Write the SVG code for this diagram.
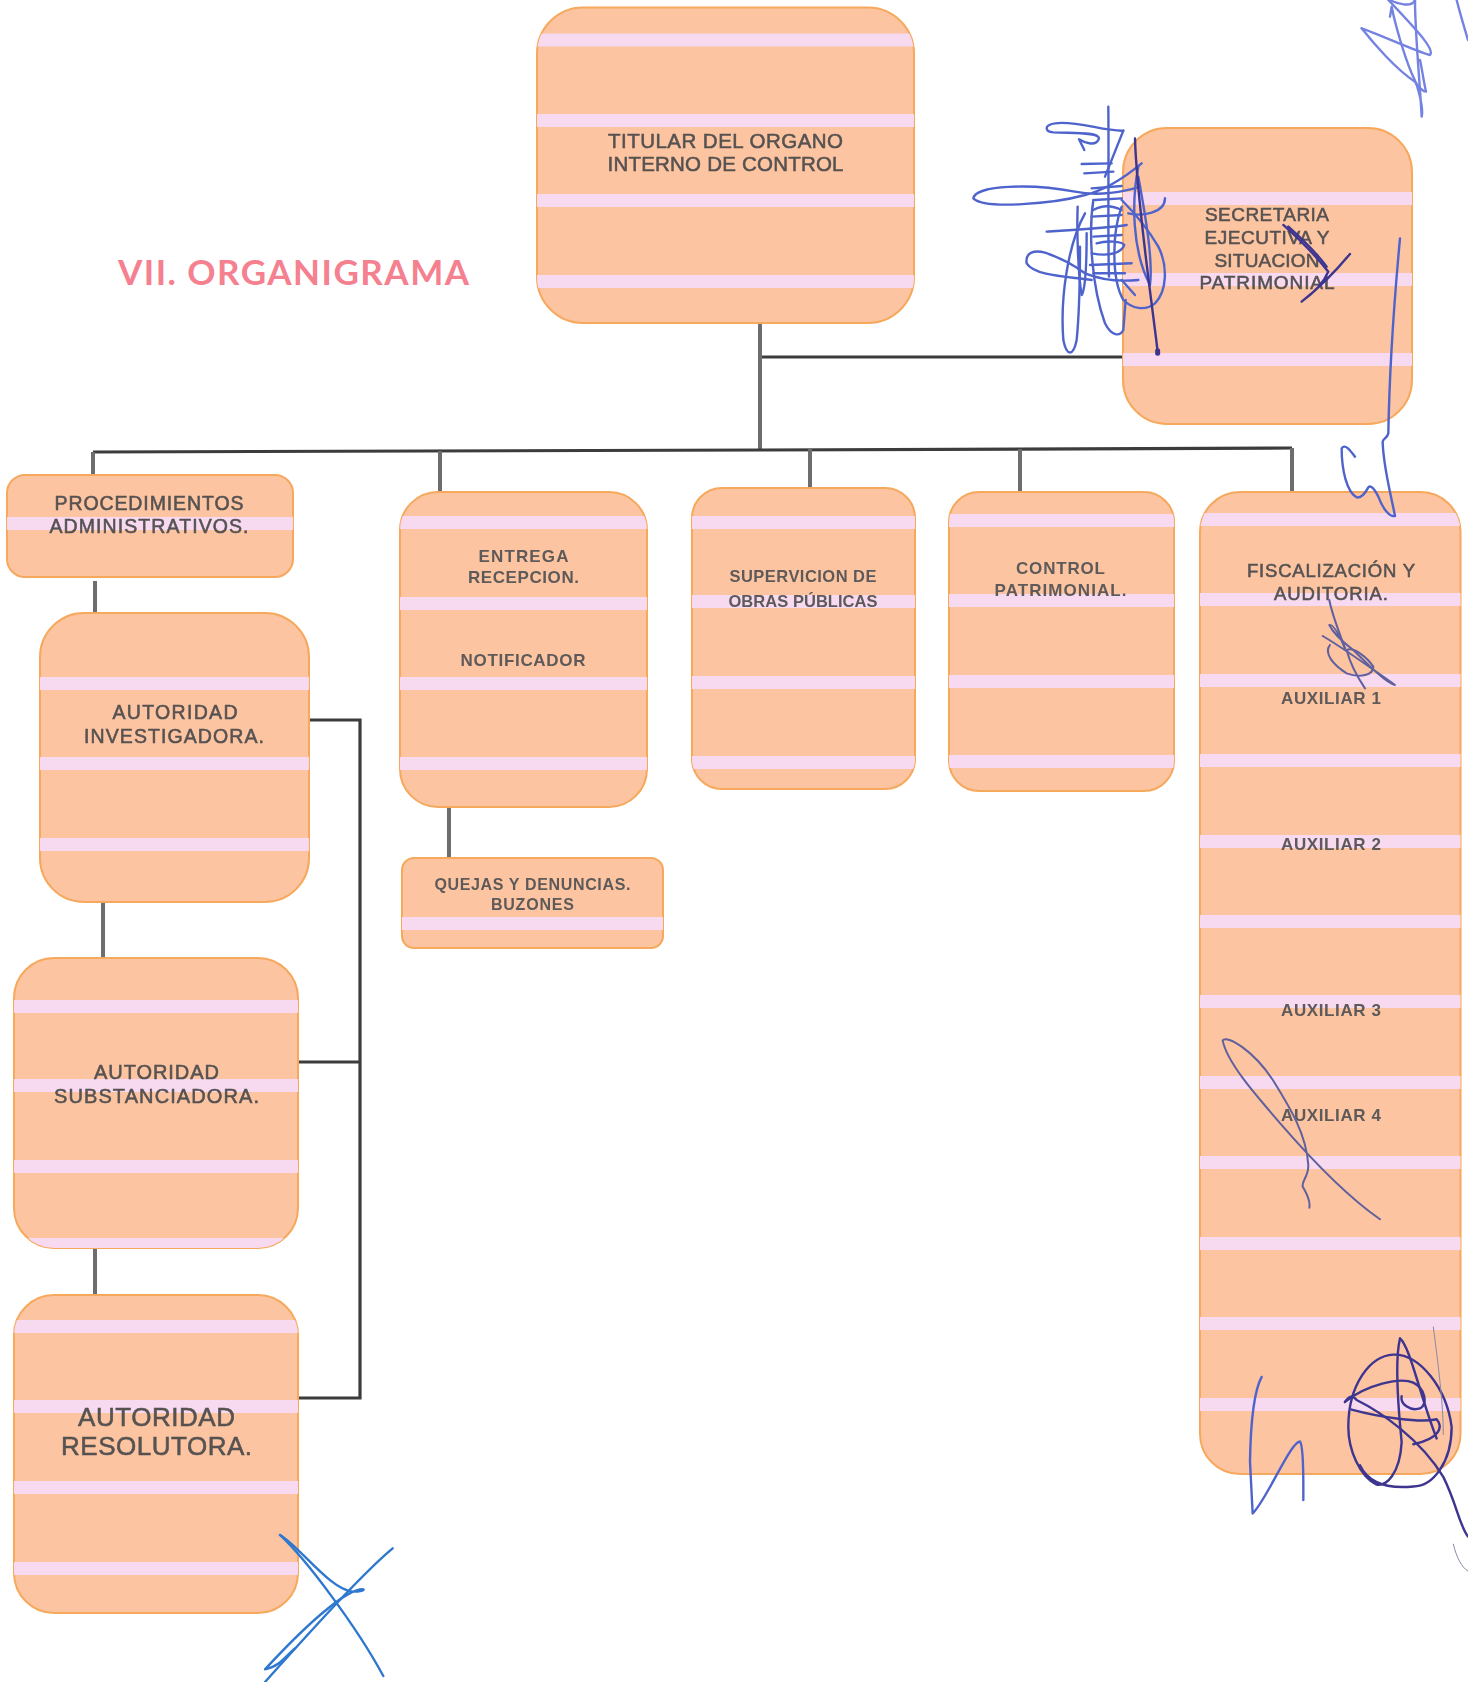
<svg xmlns="http://www.w3.org/2000/svg" width="1468" height="1682" viewBox="0 0 1468 1682">
<style>
.box{fill:#fcc4a0;stroke:#f6a85c;stroke-width:2}
.st{fill:#f7d9f0}
.t{font-family:"Liberation Sans",Arial,sans-serif;fill:#565252;text-anchor:middle;stroke:#565252;stroke-width:.55;filter:url(#soft)}
.b{font-weight:bold;stroke:none;fill:#5e5a5a}
.v{stroke:#6d6d70;stroke-width:4;fill:none}
.h{stroke:#3c3c3c;stroke-width:3.2;fill:none}
.sig path{fill:none;stroke-linecap:round;stroke-linejoin:round;vector-effect:non-scaling-stroke}
.blue path{stroke:#4f63cc;stroke-width:2.4}
.light path{stroke:#7483e2;stroke-width:2.4}
.dark path{stroke:#3d3590;stroke-width:2.4}
.mix path{stroke:#60609f;stroke-width:2}
.x path{stroke:#2f78cf;stroke-width:2.4}
.thin path{stroke:#8a8aa8;stroke-width:1}
</style>
<defs>
<filter id="soft" x="-5%" y="-10%" width="110%" height="120%"><feGaussianBlur stdDeviation=".35"/></filter>
<clipPath id="c1"><rect x="537" y="7.5" width="377" height="315.5" rx="46"/></clipPath>
<clipPath id="c2"><rect x="400" y="492" width="247" height="315" rx="38"/></clipPath>
<clipPath id="c3"><rect x="692" y="488" width="223" height="301" rx="30"/></clipPath>
<clipPath id="c4"><rect x="949" y="492" width="225" height="299" rx="30"/></clipPath>
<clipPath id="c5"><rect x="1200" y="492" width="260.500" height="982" rx="40"/></clipPath>
<clipPath id="c6"><rect x="14" y="1295" width="284" height="318" rx="40"/></clipPath>
<clipPath id="c7"><rect x="14" y="958" width="284" height="290" rx="40"/></clipPath>
</defs>

<text x="118" y="285" font-family="Lato,'Liberation Sans',sans-serif" font-weight="bold" font-size="35" fill="#f5808f" textLength="351" lengthAdjust="spacing">VII. ORGANIGRAMA</text>

<g id="connectors">
<path class="v" d="M760 323V450"/>
<path class="h" d="M762 357H1123"/>
<path class="h" d="M93 452L760 450L1292 448"/>
<path class="v" d="M93 452V475M440 451V492M810 449V488M1020 449V492M1292 448V492"/>
<path class="v" d="M95 581V613M103 902V958M95 1248V1295M449 807V858"/>
<path class="h" d="M308 720H360V1398H298M298 1062H360"/>
</g>

<g id="n-titular">
<rect class="box" x="537" y="7.500" width="377" height="315.500" rx="46"/>
<g clip-path="url(#c1)"><rect class="st" x="537" y="33.500" width="377" height="13"/><rect class="st" x="537" y="114" width="377" height="13"/><rect class="st" x="537" y="194" width="377" height="13"/><rect class="st" x="537" y="275" width="377" height="13"/></g>
<text class="t" font-size="20.500"><tspan x="725.500" y="147.500" textLength="235" lengthAdjust="spacing">TITULAR DEL ORGANO</tspan><tspan x="725.500" y="171" textLength="236" lengthAdjust="spacing">INTERNO DE CONTROL</tspan></text>
</g>

<g id="n-secretaria">
<rect class="box" x="1123" y="128" width="289" height="296" rx="44"/>
<rect class="st" x="1123" y="192" width="289" height="13"/><rect class="st" x="1123" y="273" width="289" height="13"/><rect class="st" x="1123" y="353" width="289" height="13"/>
<text class="t" font-size="19"><tspan x="1267" y="221" textLength="124" lengthAdjust="spacing">SECRETARIA</tspan><tspan x="1267" y="243.500" textLength="125" lengthAdjust="spacing">EJECUTIVA Y</tspan><tspan x="1267" y="266.500" textLength="105" lengthAdjust="spacing">SITUACION</tspan><tspan x="1267" y="288.500" textLength="135" lengthAdjust="spacing">PATRIMONIAL</tspan></text>
</g>

<g id="n-procedimientos">
<rect class="box" x="7" y="475" width="286" height="102" rx="18"/>
<rect class="st" x="7" y="517" width="286" height="13"/>
<text class="t" font-size="19.500"><tspan x="149" y="510" textLength="189" lengthAdjust="spacing">PROCEDIMIENTOS</tspan><tspan x="149" y="533" textLength="199" lengthAdjust="spacing">ADMINISTRATIVOS.</tspan></text>
</g>

<g id="n-investigadora">
<rect class="box" x="40" y="613" width="269" height="289" rx="44"/>
<rect class="st" x="40" y="677" width="269" height="13"/><rect class="st" x="40" y="757" width="269" height="13"/><rect class="st" x="40" y="838" width="269" height="13"/>
<text class="t" font-size="19.500"><tspan x="175" y="719" textLength="125" lengthAdjust="spacing">AUTORIDAD</tspan><tspan x="174" y="743" textLength="180" lengthAdjust="spacing">INVESTIGADORA.</tspan></text>
</g>

<g id="n-entrega">
<rect class="box" x="400" y="492" width="247" height="315" rx="38"/>
<g clip-path="url(#c2)"><rect class="st" x="400" y="516" width="247" height="13"/><rect class="st" x="400" y="597" width="247" height="13"/><rect class="st" x="400" y="677" width="247" height="13"/><rect class="st" x="400" y="757" width="247" height="13"/></g>
<text class="t b" font-size="17"><tspan x="523.500" y="562" textLength="90" lengthAdjust="spacing">ENTREGA</tspan><tspan x="523.500" y="583" textLength="111" lengthAdjust="spacing">RECEPCION.</tspan><tspan x="523" y="666" textLength="125" lengthAdjust="spacing">NOTIFICADOR</tspan></text>
</g>

<g id="n-supervision">
<rect class="box" x="692" y="488" width="223" height="301" rx="30"/>
<g clip-path="url(#c3)"><rect class="st" x="692" y="516" width="223" height="13"/><rect class="st" x="692" y="595" width="223" height="13"/><rect class="st" x="692" y="676" width="223" height="13"/><rect class="st" x="692" y="756" width="223" height="13"/></g>
<text class="t b" font-size="16.500"><tspan x="803" y="582" textLength="147" lengthAdjust="spacing">SUPERVICION DE</tspan><tspan x="803" y="606.500" textLength="149" lengthAdjust="spacing">OBRAS PÚBLICAS</tspan></text>
</g>

<g id="n-control">
<rect class="box" x="949" y="492" width="225" height="299" rx="30"/>
<g clip-path="url(#c4)"><rect class="st" x="949" y="514" width="225" height="13"/><rect class="st" x="949" y="594" width="225" height="13"/><rect class="st" x="949" y="675" width="225" height="13"/><rect class="st" x="949" y="755" width="225" height="13"/></g>
<text class="t b" font-size="17"><tspan x="1060.500" y="574" textLength="89" lengthAdjust="spacing">CONTROL</tspan><tspan x="1060.500" y="596" textLength="132" lengthAdjust="spacing">PATRIMONIAL.</tspan></text>
</g>

<g id="n-fiscalizacion">
<rect class="box" x="1200" y="492" width="260.500" height="982" rx="40"/>
<g clip-path="url(#c5)"><rect class="st" x="1200" y="513" width="261" height="13"/><rect class="st" x="1200" y="593" width="261" height="13"/><rect class="st" x="1200" y="674" width="261" height="13"/><rect class="st" x="1200" y="754" width="261" height="13"/><rect class="st" x="1200" y="835" width="261" height="13"/><rect class="st" x="1200" y="915" width="261" height="13"/><rect class="st" x="1200" y="995" width="261" height="13"/><rect class="st" x="1200" y="1076" width="261" height="13"/><rect class="st" x="1200" y="1156" width="261" height="13"/><rect class="st" x="1200" y="1237" width="261" height="13"/><rect class="st" x="1200" y="1317" width="261" height="13"/><rect class="st" x="1200" y="1398" width="261" height="13"/></g>
<text class="t" font-size="18.500"><tspan x="1331" y="577" textLength="168" lengthAdjust="spacing">FISCALIZACIÓN Y</tspan><tspan x="1331" y="600" textLength="114" lengthAdjust="spacing">AUDITORIA.</tspan></text>
<text class="t b" font-size="17"><tspan x="1331" y="704" textLength="100" lengthAdjust="spacing">AUXILIAR 1</tspan><tspan x="1331" y="850" textLength="100" lengthAdjust="spacing">AUXILIAR 2</tspan><tspan x="1331" y="1016" textLength="100" lengthAdjust="spacing">AUXILIAR 3</tspan><tspan x="1331" y="1121" textLength="100" lengthAdjust="spacing">AUXILIAR 4</tspan></text>
</g>

<g id="n-quejas">
<rect class="box" x="402" y="858" width="261" height="90" rx="12"/>
<rect class="st" x="402" y="917" width="261" height="13"/>
<text class="t b" font-size="16"><tspan x="532.400" y="890" textLength="196" lengthAdjust="spacing">QUEJAS Y DENUNCIAS.</tspan><tspan x="532.400" y="910" textLength="83" lengthAdjust="spacing">BUZONES</tspan></text>
</g>

<g id="n-substanciadora">
<rect class="box" x="14" y="958" width="284" height="290" rx="40"/>
<g clip-path="url(#c7)"><rect class="st" x="14" y="1000" width="284" height="13"/><rect class="st" x="14" y="1079" width="284" height="13"/><rect class="st" x="14" y="1160" width="284" height="13"/><rect class="st" x="14" y="1238" width="284" height="13"/></g>
<text class="t" font-size="20"><tspan x="156.500" y="1079" textLength="125" lengthAdjust="spacing">AUTORIDAD</tspan><tspan x="156.500" y="1103" textLength="205" lengthAdjust="spacing">SUBSTANCIADORA.</tspan></text>
</g>

<g id="n-resolutora">
<rect class="box" x="14" y="1295" width="284" height="318" rx="40"/>
<g clip-path="url(#c6)"><rect class="st" x="14" y="1320" width="284" height="13"/><rect class="st" x="14" y="1400" width="284" height="13"/><rect class="st" x="14" y="1481" width="284" height="13"/><rect class="st" x="14" y="1562" width="284" height="13"/></g>
<text class="t" font-size="26"><tspan x="156.500" y="1426" textLength="157" lengthAdjust="spacing">AUTORIDAD</tspan><tspan x="156.500" y="1455" textLength="191" lengthAdjust="spacing">RESOLUTORA.</tspan></text>
</g>

<g id="signatures" class="sig">
<g class="light" transform="translate(1340,0) scale(.3333)">
<path d="M65 85C110 100 230 155 270 165C285 150 240 100 145 0"/>
<path d="M65 85C100 130 170 210 225 245C235 260 250 275 258 275C250 240 245 200 240 180"/>
<path d="M225 0C225 100 240 250 245 350C250 330 240 270 215 220C190 160 165 70 155 20L150 50"/>
<path d="M148 0C170 10 215 25 225 0"/>
<path d="M350 0C360 40 375 90 384 120"/>
</g>
<g class="blue" transform="translate(965,100) scale(.3333)">
<path d="M430 20C432 200 428 400 432 530"/>
<path d="M475 92C420 95 330 60 270 70C235 75 240 95 265 97C320 100 400 95 402 115C395 140 360 130 342 118L358 150"/>
<path d="M475 92L420 230"/>
<path d="M350 192L440 190M358 220L445 215"/>
<path d="M530 190C470 240 420 270 360 285C270 310 60 330 25 295C30 255 200 250 330 275C400 290 480 275 525 260"/>
<path d="M245 395C320 390 420 385 485 375"/>
<path d="M338 320C335 400 340 530 350 585C360 570 365 500 365 400"/>
<path d="M360 340C310 430 285 590 295 720C305 770 325 770 335 720C345 620 345 510 345 440"/>
<path d="M380 540C320 530 210 530 185 490C180 455 210 450 240 458C290 475 320 490 360 520C410 540 470 545 520 540"/>
<path d="M380 265L470 258M385 330C420 310 450 320 470 330M380 350L470 345M395 430C430 420 470 425 478 435C470 460 430 470 380 460M375 495L500 490M385 520L480 520M390 300L470 295M385 410L470 405"/>
<path d="M385 300C370 400 380 560 420 670C440 710 465 710 475 690L482 600"/>
<path d="M470 320C440 400 440 540 475 600C500 625 540 635 570 610C605 575 610 500 580 440C545 380 510 340 470 300"/>
<path d="M490 340C530 350 600 340 600 295"/>
<path d="M520 200C500 300 500 450 555 555C565 480 540 340 520 230"/>
<path d="M470 540L510 585"/>
</g>
<g class="dark" transform="translate(965,100) scale(.3333)">
<path d="M510 115C515 300 560 600 578 755"/>
<path d="M578 752L578 760" style="stroke-width:5"/>
</g>
<g class="dark" transform="translate(960,0) scale(.3333)">
<path d="M970 675C1020 720 1070 770 1105 815C1090 850 1060 880 1025 905C1070 870 1130 810 1170 762"/>
<path d="M985 680C1030 720 1070 760 1100 800"/>
</g>
<g class="blue" transform="translate(1300,410) scale(.3333)">
<path d="M300 -515C280 -300 268 -100 265 70C262 85 250 85 248 95C250 170 270 240 285 318C270 322 250 300 235 260C222 235 212 225 205 232C195 250 185 265 170 262C140 245 125 180 125 115C135 100 150 120 165 140"/>
</g>
<g class="mix" transform="translate(1290,600) scale(.3333)">
<path d="M118 0C125 40 145 90 165 145"/>
<path d="M98 108C170 150 250 210 315 255C290 250 240 200 190 150C150 120 125 90 118 75C130 70 150 110 165 145"/>
<path d="M120 135C100 160 130 195 170 220C210 235 250 225 250 200C230 170 190 140 170 150C180 190 205 235 225 265"/>
</g>
<g class="mix" transform="translate(1180,1000) scale(.3333,.3846)">
<path d="M600 570C500 510 400 420 300 320C220 240 140 160 128 105C140 90 220 130 280 210C330 280 380 350 385 430C385 460 365 470 368 485C385 510 392 525 388 540"/>
</g>
<g class="blue" transform="translate(1180,1000) scale(.3333,.3846)">
<path d="M245 980C220 1020 212 1100 210 1200L218 1335C260 1300 330 1150 360 1148C372 1160 370 1250 370 1300"/>
</g>
<g class="dark" transform="translate(1180,1000) scale(.3333,.3846)">
<path d="M660 880C640 950 660 1100 665 1150C660 1230 620 1265 590 1260C540 1240 505 1170 505 1110C505 1000 570 925 640 922C720 920 800 1010 815 1110C815 1200 760 1265 700 1265C640 1270 570 1265 540 1210"/>
<path d="M660 880C690 900 720 1030 770 1140"/>
<path d="M495 1045C560 1000 660 980 700 995C735 1010 745 1050 720 1062C690 1070 660 1050 665 1030"/>
<path d="M495 1045C510 1025 520 1030 530 1040C600 1070 720 1140 790 1240C830 1310 840 1370 864 1395"/>
<path d="M515 1065C600 1085 720 1100 770 1090C790 1110 780 1140 700 1155"/>
</g>
<g class="thin" transform="translate(1180,1000) scale(.3333,.3846)">
<path d="M760 850C775 950 790 1050 790 1130"/>
<path d="M820 1415C830 1450 845 1475 864 1485"/>
</g>
<g class="x" transform="translate(200,1480) scale(.3333)">
<path d="M240 165C300 200 390 330 460 335C480 335 495 330 490 328C450 325 350 400 195 568C240 560 260 525 285 505"/>
<path d="M578 205C500 270 380 400 195 606"/>
<path d="M240 165C320 240 470 440 550 588"/>
</g>
</g>
</svg>
